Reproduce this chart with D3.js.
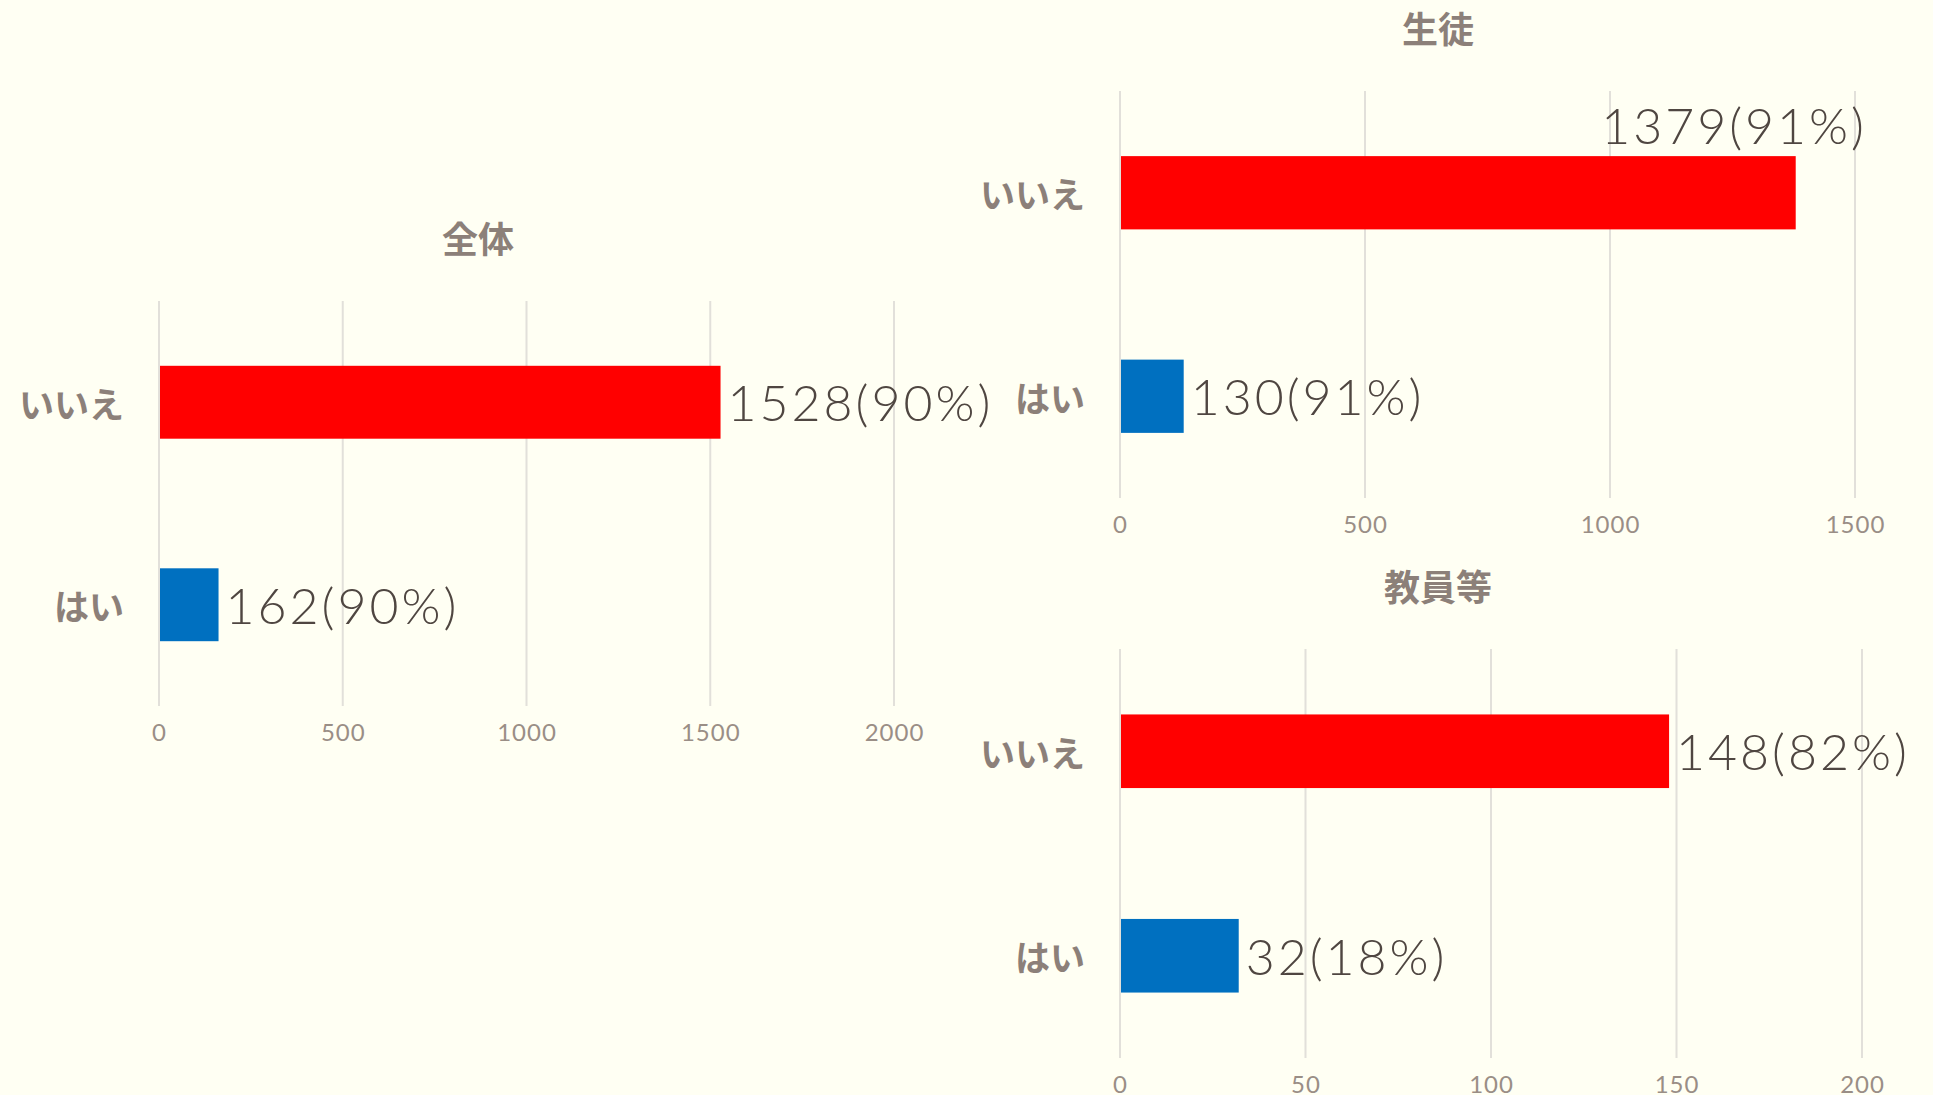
<!DOCTYPE html>
<html>
<head>
<meta charset="utf-8">
<script src="https://cdn.jsdelivr.net/npm/d3@7"></script>
<style>
  html, body { margin: 0; padding: 0; background: #fffff3; }
  svg { display: block; }
</style>
</head>
<body>
<svg id="chart"></svg>
<script>
// values
var categories = ["いいえ", "はい"];
var titles = ["全体", "生徒", "教員等"];

var totalValues = [1528, 162];
var totalPct = [90, 90];
var studentValues = [1379, 130];
var studentPct = [91, 91];
var staffValues = [148, 32];
var staffPct = [82, 18];

var totalTicks = [0, 500, 1000, 1500, 2000];
var studentTicks = [0, 500, 1000, 1500];
var staffTicks = [0, 50, 100, 150, 200];

var barColors = ["#ff0000", "#0070c0"];

var width = 1933, height = 1095;
var svg = d3.select("#chart").attr("width", width).attr("height", height);

// panel boxes (layout only)
var panels = [
    {title: titles[0], values: totalValues, pct: totalPct, ticks: totalTicks,
     x0: 159, x1: 894, y0: 301, y1: 706, titleX: 478, titleY: 237, limit: 1000},
    {title: titles[1], values: studentValues, pct: studentPct, ticks: studentTicks,
     x0: 1120, x1: 1855, y0: 91, y1: 498, titleX: 1438, titleY: 27, limit: 1870},
    {title: titles[2], values: staffValues, pct: staffPct, ticks: staffTicks,
     x0: 1120, x1: 1862, y0: 649, y1: 1058, titleX: 1438, titleY: 585, limit: 1925}
];

panels.forEach(function (p) {
    var g = svg.append("g");

    var x = d3.scaleLinear()
        .domain([0, p.ticks[p.ticks.length - 1]])
        .range([p.x0, p.x1]);

    var y = d3.scaleBand()
        .domain(categories)
        .range([p.y0, p.y1])
        .paddingInner(0.64)
        .paddingOuter(0.32);

    // title
    g.append("text")
        .attr("x", p.titleX)
        .attr("y", p.titleY)
        .attr("text-anchor", "middle")
        .attr("dominant-baseline", "central")
        .attr("font-family", "'Noto Sans CJK JP', sans-serif")
        .attr("font-weight", "bold")
        .attr("font-size", "36px")
        .attr("fill", "#8c8079")
        .text(p.title);

    // gridlines
    g.selectAll("line.grid").data(p.ticks).enter().append("line")
        .attr("class", "grid")
        .attr("x1", function (d) { return x(d); })
        .attr("x2", function (d) { return x(d); })
        .attr("y1", p.y0)
        .attr("y2", p.y1)
        .attr("stroke", "#e2e0da")
        .attr("stroke-width", 2);

    // x axis tick labels
    var axis = d3.axisBottom(x).tickValues(p.ticks).tickFormat(d3.format("d"))
        .tickSize(0).tickPadding(0);
    var ax = g.append("g")
        .attr("transform", "translate(0," + (p.y1 + 25) + ")")
        .call(axis);
    ax.select(".domain").remove();
    ax.selectAll("text")
        .attr("dy", null)
        .attr("y", 0)
        .attr("dominant-baseline", "central")
        .attr("font-family", "Lato, sans-serif")
        .attr("font-size", "24px")
        .attr("letter-spacing", "1px")
        .attr("fill", "#9a8e86");

    // category labels
    g.selectAll("text.cat").data(categories).enter().append("text")
        .attr("class", "cat")
        .attr("x", p.x0 - 35)
        .attr("y", function (d) { return y(d) + y.bandwidth() / 2; })
        .attr("text-anchor", "end")
        .attr("dominant-baseline", "central")
        .attr("font-family", "'Noto Sans CJK JP', sans-serif")
        .attr("font-weight", "bold")
        .attr("font-size", "35px")
        .attr("fill", "#8c8079")
        .text(function (d) { return d; });

    // bars
    g.selectAll("rect.bar").data(p.values).enter().append("rect")
        .attr("class", "bar")
        .attr("x", x(0) + 1)
        .attr("y", function (d, i) { return y(categories[i]); })
        .attr("width", function (d) { return x(d) - x(0) - 1; })
        .attr("height", y.bandwidth())
        .attr("fill", function (d, i) { return barColors[i]; });

    // value labels
    g.selectAll("text.val").data(p.values).enter().append("text")
        .attr("class", "val")
        .attr("x", function (d) { return x(d) + 7; })
        .attr("y", function (d, i) { return y(categories[i]) + y.bandwidth() / 2; })
        .attr("dominant-baseline", "central")
        .attr("font-family", "Lato, sans-serif")
        .attr("font-weight", 300)
        .attr("font-size", "50px")
        .attr("letter-spacing", "3px")
        .attr("fill", "#4f4641")
        .text(function (d, i) { return d + "(" + p.pct[i] + "%)"; })
        .each(function (d, i) {
            // labels that run past the panel sit above the bar
            var w = this.getComputedTextLength();
            if (x(d) + 7 + w > p.limit) {
                d3.select(this)
                    .attr("x", p.x1 + 12)
                    .attr("text-anchor", "end")
                    .attr("dominant-baseline", "alphabetic")
                    .attr("y", y(categories[i]) - 12);
            }
        });
});
</script>
</body>
</html>
